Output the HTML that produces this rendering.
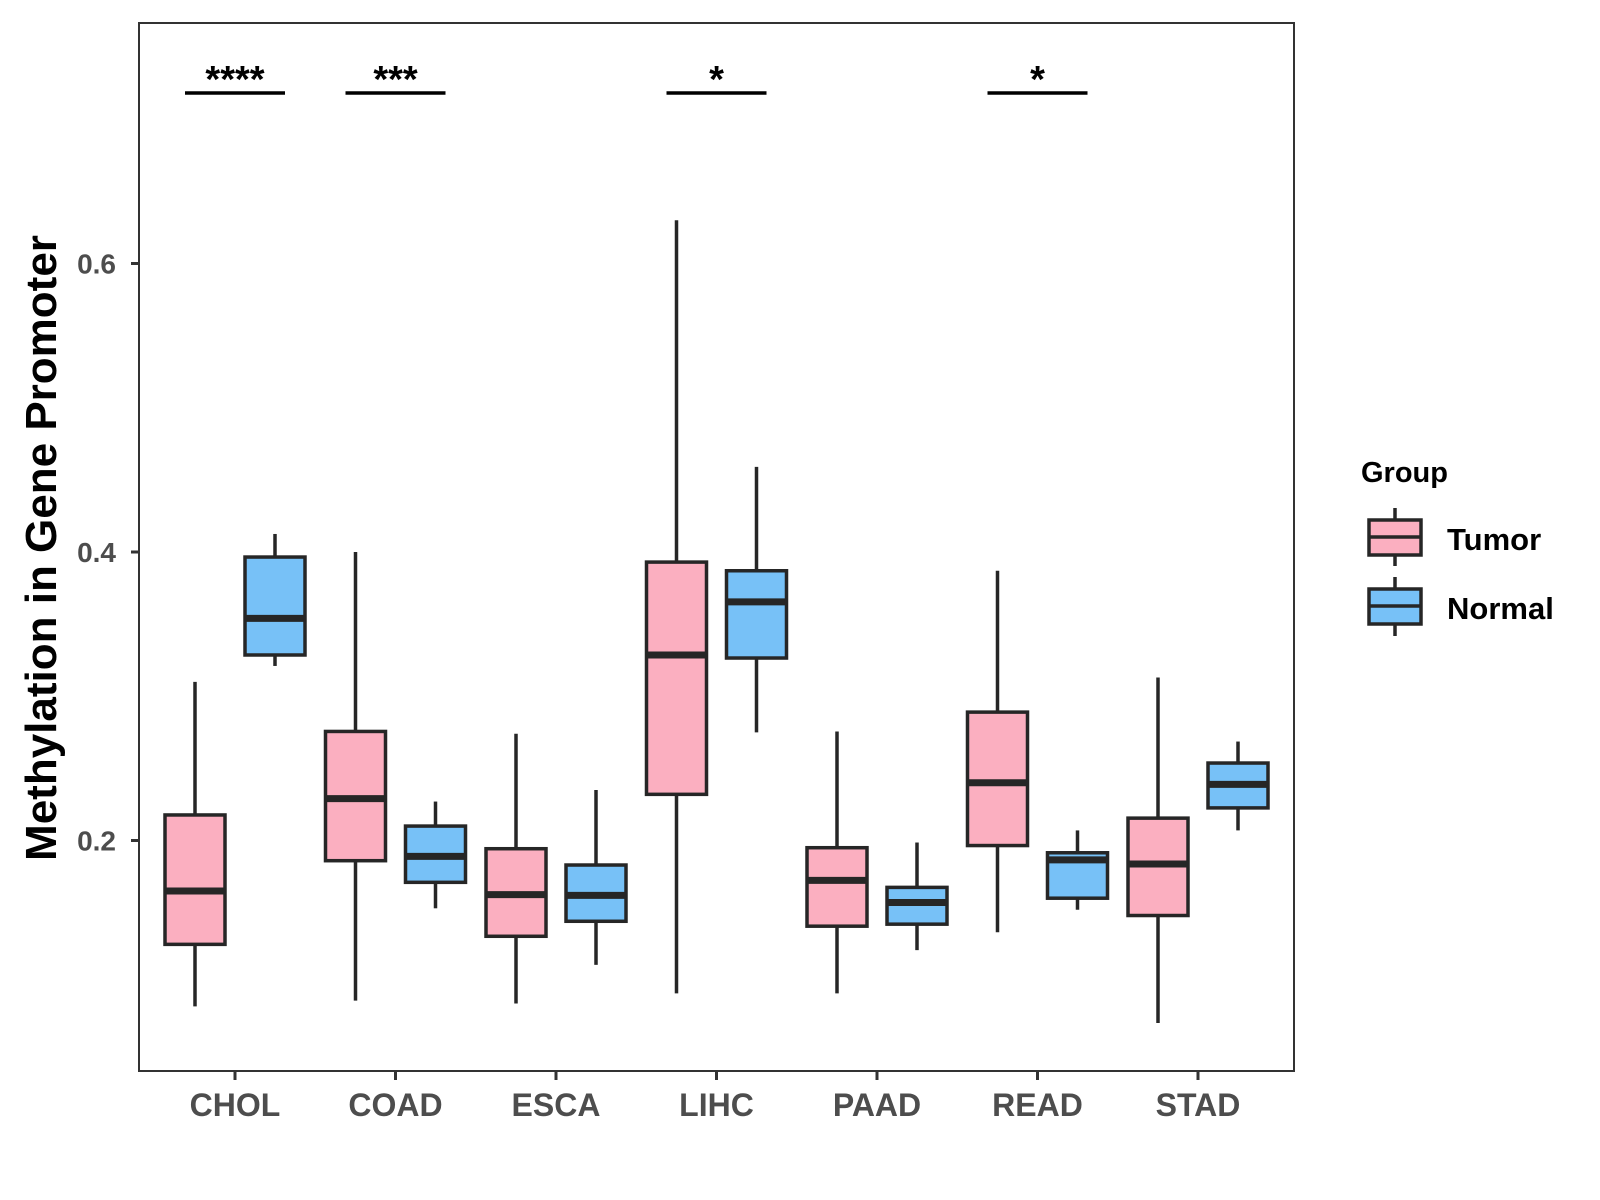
<!DOCTYPE html>
<html><head><meta charset="utf-8"><style>
html,body{margin:0;padding:0;background:#fff;}
svg{display:block;font-family:"Liberation Sans",Arial,sans-serif;font-weight:bold;}
</style></head><body>
<svg id="chart" width="1600" height="1200" viewBox="0 0 1600 1200">
<rect x="139" y="23" width="1155" height="1048" fill="#fff" stroke="#333" stroke-width="2"/>
<g id="marks"></g>
<text x="0" y="0" transform="translate(56,548) rotate(-90)" text-anchor="middle" font-size="44" fill="#000">Methylation in Gene Promoter</text>
<g>
<text x="1361" y="482" font-size="29" fill="#000">Group</text>
<g>
<line x1="1395" y1="508" x2="1395" y2="566" stroke="#262626" stroke-width="3.5"/>
<rect x="1369" y="520" width="52" height="35" fill="#FBAFC0" stroke="#262626" stroke-width="3.5"/>
<line x1="1369" y1="537" x2="1421" y2="537" stroke="#262626" stroke-width="3.5"/>
<text x="1447" y="550" font-size="31" fill="#000">Tumor</text>
</g>
<g>
<line x1="1395" y1="577" x2="1395" y2="636" stroke="#262626" stroke-width="3.5"/>
<rect x="1369" y="589" width="52" height="35" fill="#77C1F7" stroke="#262626" stroke-width="3.5"/>
<line x1="1369" y1="606" x2="1421" y2="606" stroke="#262626" stroke-width="3.5"/>
<text x="1447" y="619" font-size="31" fill="#000">Normal</text>
</g>
</g>
</svg>
<script>
const categories = ["CHOL","COAD","ESCA","LIHC","PAAD","READ","STAD"];
// [min, q1, median, q3, max]
const tumorStats = [
 [0.085,0.128,0.165,0.2177,0.310],
 [0.089,0.186,0.229,0.2756,0.400],
 [0.087,0.1336,0.1625,0.1943,0.274],
 [0.094,0.232,0.3286,0.393,0.630],
 [0.094,0.1406,0.1724,0.195,0.2756],
 [0.1364,0.1965,0.240,0.289,0.387],
 [0.0735,0.148,0.1837,0.2155,0.313]
];
const normalStats = [
 [0.321,0.3286,0.354,0.3965,0.4125],
 [0.153,0.171,0.189,0.210,0.227],
 [0.1138,0.144,0.162,0.183,0.235],
 [0.275,0.3265,0.3654,0.387,0.459],
 [0.124,0.142,0.157,0.1675,0.1986],
 [0.152,0.160,0.1866,0.1915,0.207],
 [0.207,0.2226,0.2389,0.2537,0.2686]
];
const yTicks = [0.2,0.4,0.6];
const sigCategories = ["CHOL","COAD","LIHC","READ"];
const sigLabels = ["****","***","*","*"];

const NS="http://www.w3.org/2000/svg";
const g=document.getElementById('marks');
function y(v){return 552-(v-0.4)*1442.5;}
function x(i){return 235+i*160.5;}
function mk(tag,attrs,parent){const e=document.createElementNS(NS,tag);for(const k in attrs)e.setAttribute(k,attrs[k]);(parent||g).appendChild(e);return e;}
const stroke="#262626";
yTicks.forEach(t=>{
  const l=mk('line',{x1:131,x2:139,y1:y(t),y2:y(t),stroke:"#333","stroke-width":3});
  
  
  const tx=mk('text',{x:116,y:y(t)+10,"text-anchor":"end","font-size":28,fill:"#4d4d4d"});
  tx.textContent=t.toFixed(1);
  
  
});
categories.forEach((c,i)=>{
  const l=mk('line',{x1:x(i),x2:x(i),y1:1071,y2:1080,stroke:"#333","stroke-width":3});
  
  
  const tx=mk('text',{x:x(i),y:1116,"text-anchor":"middle","font-size":32,fill:"#4d4d4d"});
  tx.textContent=c;
  
  
});
function box(cx,s,fill,name){
  const grp=mk('g',{});
  
  
  const w=60;
  mk('line',{x1:cx,x2:cx,y1:y(s[4]),y2:y(s[3]),stroke:stroke,"stroke-width":3.5},grp);
  mk('line',{x1:cx,x2:cx,y1:y(s[1]),y2:y(s[0]),stroke:stroke,"stroke-width":3.5},grp);
  mk('rect',{x:cx-w/2,y:y(s[3]),width:w,height:y(s[1])-y(s[3]),fill:fill,stroke:stroke,"stroke-width":3.5},grp);
  mk('line',{x1:cx-w/2,x2:cx+w/2,y1:y(s[2]),y2:y(s[2]),stroke:stroke,"stroke-width":7},grp);
}
categories.forEach((c,i)=>{
  box(x(i)-40,tumorStats[i],"#FBAFC0","box-tumor-"+c.toLowerCase());
  box(x(i)+40,normalStats[i],"#77C1F7","box-normal-"+c.toLowerCase());
});
sigCategories.forEach((c,k)=>{
  const i=categories.indexOf(c);
  const l=mk('line',{x1:x(i)-50,x2:x(i)+50,y1:93,y2:93,stroke:"#000","stroke-width":3.5});
  
  
  const t=mk('text',{x:x(i),y:92,"text-anchor":"middle","font-size":38,fill:"#000"});
  t.textContent=sigLabels[k];
  
  
});
</script>
</body></html>
